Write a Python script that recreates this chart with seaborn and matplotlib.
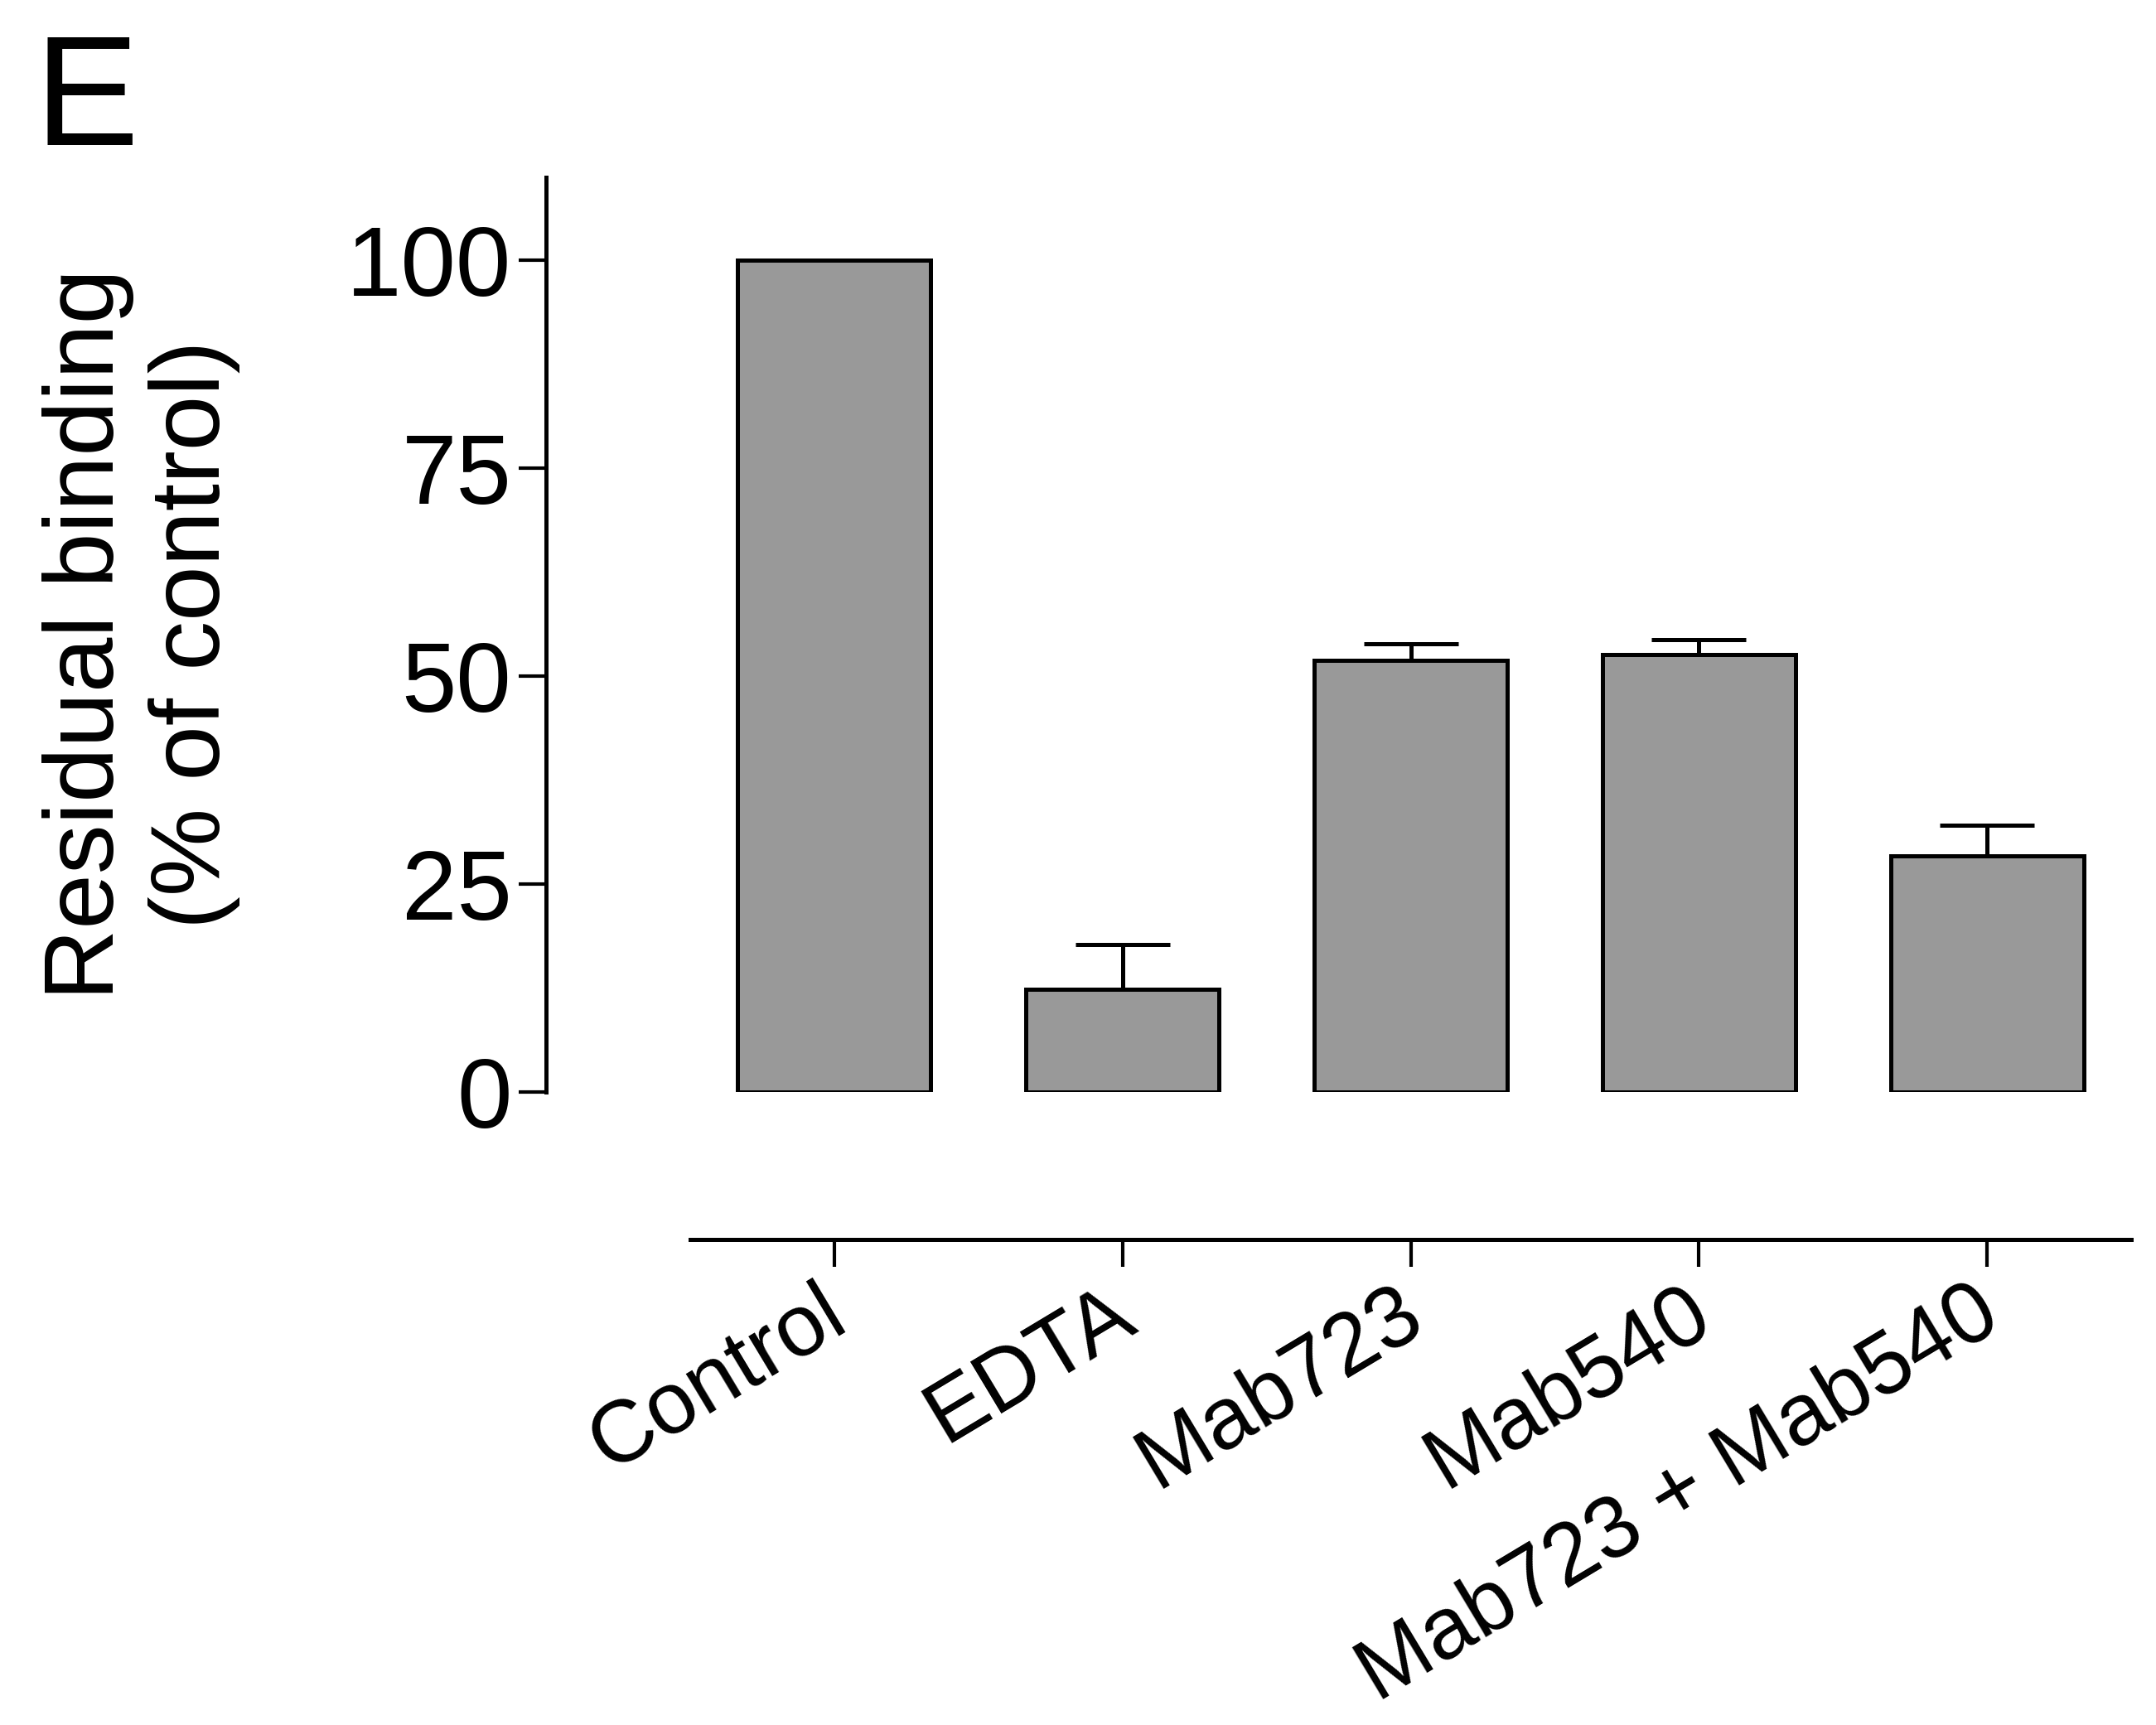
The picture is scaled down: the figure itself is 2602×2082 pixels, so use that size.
import numpy as np
import pandas as pd
import seaborn as sns
import matplotlib.pyplot as plt
import matplotlib.transforms as mtransforms

sns.set_style('ticks')
plt.rcParams['font.family'] = ['Liberation Sans', 'DejaVu Sans']
plt.rcParams['text.color'] = 'black'
plt.rcParams['axes.labelcolor'] = 'black'

# data (% of control, mean and upper error)
treatments = ['Control', 'EDTA', 'Mab723', 'Mab540', 'Mab723 + Mab540']
binding = [100.0, 12.3, 51.9, 52.6, 28.4]
binding_err = [0.0, 5.4, 2.0, 1.8, 3.7]
yticks = [0, 25, 50, 75, 100]

df = pd.DataFrame({'treatment': treatments, 'binding': binding})

fs = 43
fs_x = 38
lw_spine = 1.8
lw_bar = 1.8

fig = plt.figure(figsize=(13.01, 10.41), dpi=200)
ax = fig.add_axes([0.2533, 0.3670, 0.7352, 0.5303])

sns.barplot(
    data=df,
    x='treatment',
    y='binding',
    order=treatments,
    color='#999999',
    saturation=1,
    edgecolor='black',
    linewidth=lw_bar,
    width=0.67,
    errorbar=None,
    ax=ax
)

# one-sided (upper) error bars
err = np.array(binding_err)
mask = err > 0
xpos = np.arange(len(treatments))
ax.errorbar(
    xpos[mask],
    np.array(binding)[mask],
    yerr=[np.zeros(mask.sum()), err[mask]],
    fmt='none',
    ecolor='black',
    elinewidth=lw_bar,
    capsize=20.5,
    capthick=lw_bar,
    zorder=5
)

ax.set_xlim(-1.0, 4.5)
ax.set_ylim(0, 110)
ax.set_yticks(yticks)
ax.set_yticklabels([str(v) for v in yticks])

# prism-like detached x axis
sns.despine(ax=ax, top=True, right=True)
ax.spines['bottom'].set_position(('outward', 64))
ax.spines['bottom'].set_bounds(-0.5, 4.5)
for s in ['left', 'bottom']:
    ax.spines[s].set_linewidth(lw_spine)
    ax.spines[s].set_color('black')

ax.tick_params(axis='both', direction='out', length=12, width=1.5,
               color='black', labelcolor='black')
ax.tick_params(axis='y', pad=3, labelsize=fs)
ax.tick_params(axis='x', pad=2, labelsize=fs_x)
ax.set_xticks(xpos)
ax.set_xticklabels(treatments, rotation=31, ha='right',
                   rotation_mode='anchor')
shift = mtransforms.ScaledTranslation(-7 / 72, 0, fig.dpi_scale_trans)
for lab in ax.get_xticklabels():
    lab.set_transform(lab.get_transform() + shift)

ax.set_xlabel('')
ax.set_ylabel('Residual binding\n(% of control)', fontsize=fs,
              labelpad=46, linespacing=1.2, color='black')

fig.text(0.016, 0.916, 'E', fontsize=68, ha='left', va='baseline',
         color='black')

plt.savefig('out.png', dpi=200)
